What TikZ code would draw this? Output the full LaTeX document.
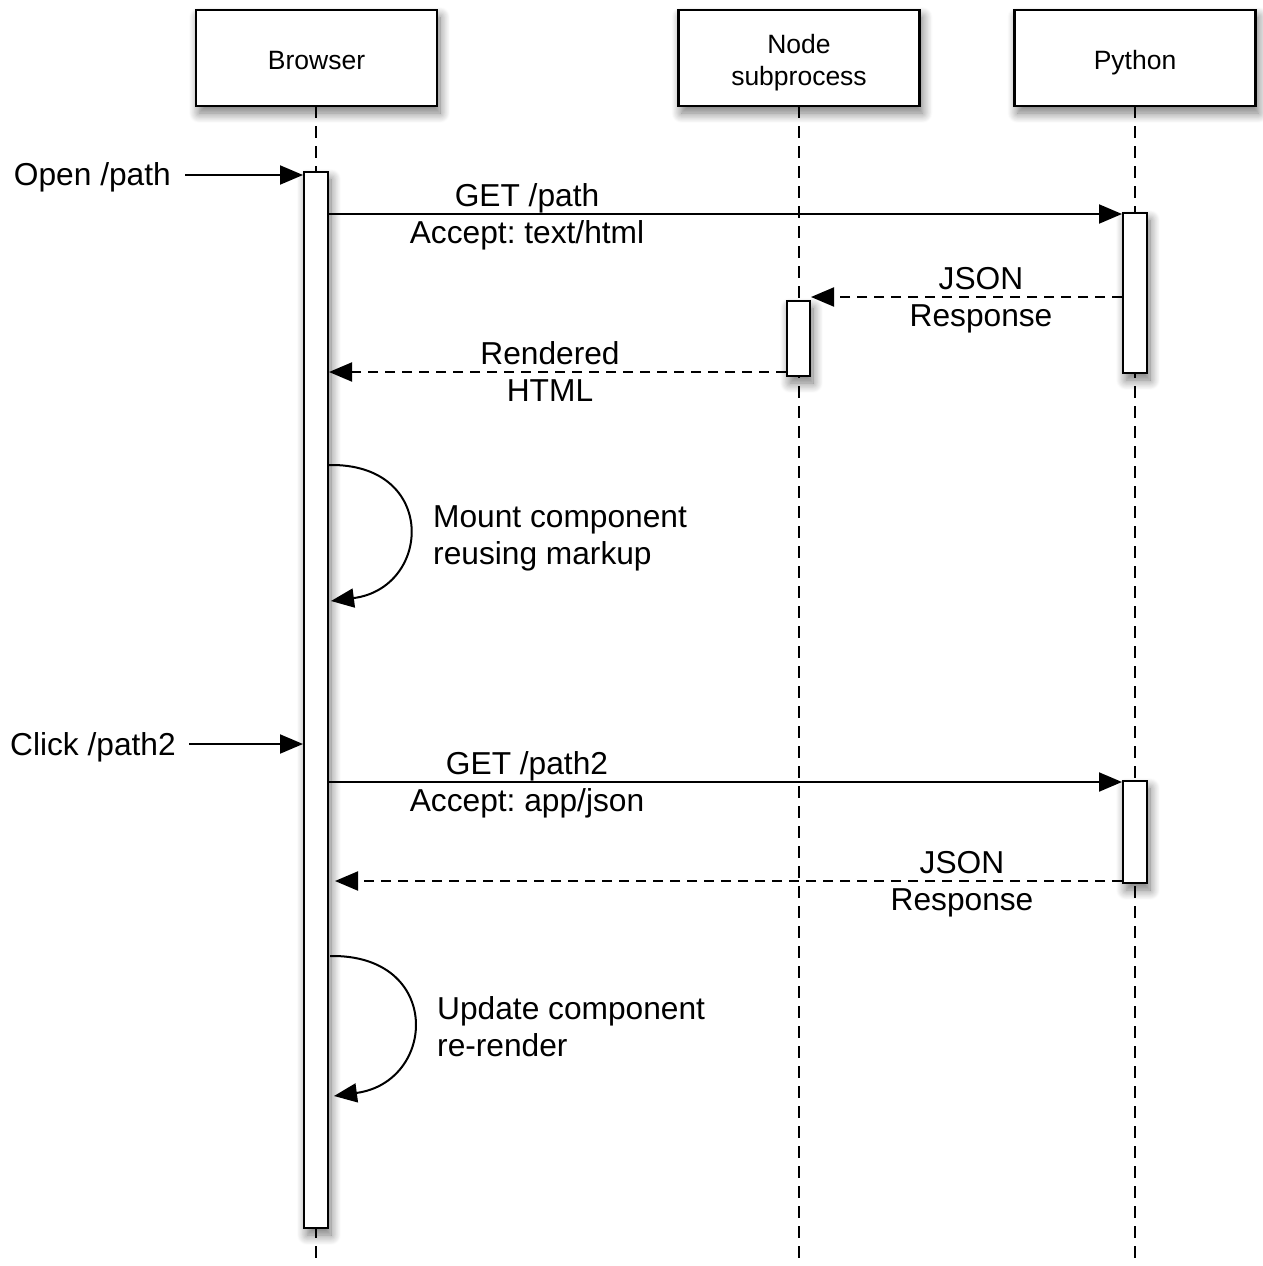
\documentclass[tikz,border=0pt]{standalone}
\usepackage{fontspec}
\setmainfont{Liberation Sans}
\usetikzlibrary{arrows.meta,shadows.blur}
\frenchspacing
\begin{document}
\frenchspacing
\begin{tikzpicture}[x=1pt,y=-1pt,
  shd/.style={blur shadow={shadow xshift=3pt,shadow yshift=-7pt,shadow blur radius=10pt,shadow blur steps=12,shadow opacity=55}},
  hdr/.style={draw, line width=2.8pt, fill=white, minimum width=241pt, minimum height=96pt, inner sep=0pt, shd},
  hdrt/.style={align=center, inner sep=0pt, font=\fontsize{26.5}{32}\selectfont},
  act/.style={draw, line width=2.8pt, fill=white, minimum width=24pt, inner sep=0pt, shd},
  life/.style={line width=2.5pt, dash pattern=on 12pt off 8pt},
  msg/.style={line width=2pt, -{Triangle[length=23pt,width=19pt]}},
  reply/.style={msg, dash pattern=on 10pt off 7pt},
  lbl/.style={font=\fontsize{31.7}{37}\selectfont\frenchspacing, align=center, inner sep=0pt},
  lbll/.style={lbl, align=left, anchor=west},
]
\useasboundingbox (0,0) rectangle (1262,1266);
% lifelines
\coordinate (lb) at (316,1266);
\coordinate (ln) at (799,1266);
\coordinate (lp) at (1135,1266);
\draw[life] (316,106) -- (lb);
\draw[life] (799,106) -- (ln);
\draw[life] (1135,106) -- (lp);
% headers
\node[hdr] (browser) at (316.5,58) {};
\node[hdrt] (browsert) at (316.5,61) {Browser};
\node[hdr] (nodesp) at (799,58) {};
\node[hdrt] (nodespt) at (799,63) {Node\\subprocess};
\node[hdr] (python) at (1135,58) {};
\node[hdrt] (pythont) at (1135,63) {Python};
% activation bars
\node[act, minimum height=1056pt] (bb) at (316,700) {};
\node[act, minimum height=75pt, minimum width=23pt] (nb) at (798.5,338.5) {};
\node[act, minimum height=160pt] (pb1) at (1135,293) {};
\node[act, minimum height=102pt] (pb2) at (1135,832) {};
% coordinates
\coordinate (o1) at (185,175);  \coordinate (o2) at (303,175);
\coordinate (g1) at (329,214);  \coordinate (g2) at (1122,214);
\coordinate (j1) at (1122,297); \coordinate (j2) at (811,297);
\coordinate (r1) at (786,372);  \coordinate (r2) at (329,372);
\coordinate (m1) at (329,465);  \coordinate (m2) at (331,601);
\coordinate (c1) at (189,744);  \coordinate (c2) at (303,744);
\coordinate (h1) at (329,782);  \coordinate (h2) at (1122,782);
\coordinate (k1) at (1122,881); \coordinate (k2) at (335,881);
\coordinate (u1) at (330,956);  \coordinate (u2) at (334,1096);
% messages
\node[lbl, anchor=base east] (openl) at (171,185) {Open /path};
\draw[msg] (o1) -- (o2);
\draw[msg] (g1) -- (g2);
\node[lbl] (getl) at (527,217) {GET /path\\Accept: text/html};
\draw[reply] (j1) -- (j2);
\node[lbl] (jsonl) at (981,300) {JSON\\Response};
\draw[reply] (r1) -- (r2);
\node[lbl] (rendl) at (550,372) {Rendered\\HTML};
\draw[msg] (m1) .. controls (438,463) and (432,588) .. (m2);
\node[lbll] (mountl) at (433,538) {Mount component\\reusing markup};
\node[lbl, anchor=base east] (clickl) at (176,755) {Click /path2};
\draw[msg] (c1) -- (c2);
\draw[msg] (h1) -- (h2);
\node[lbl] (get2l) at (527,785) {GET /path2\\Accept: app/json};
\draw[reply] (k1) -- (k2);
\node[lbl] (json2l) at (962,884) {JSON\\Response};
\draw[msg] (u1) .. controls (443,954) and (437,1082) .. (u2);
\node[lbll] (updl) at (437,1027) {Update component\\re-render};
\end{tikzpicture}
\end{document}
